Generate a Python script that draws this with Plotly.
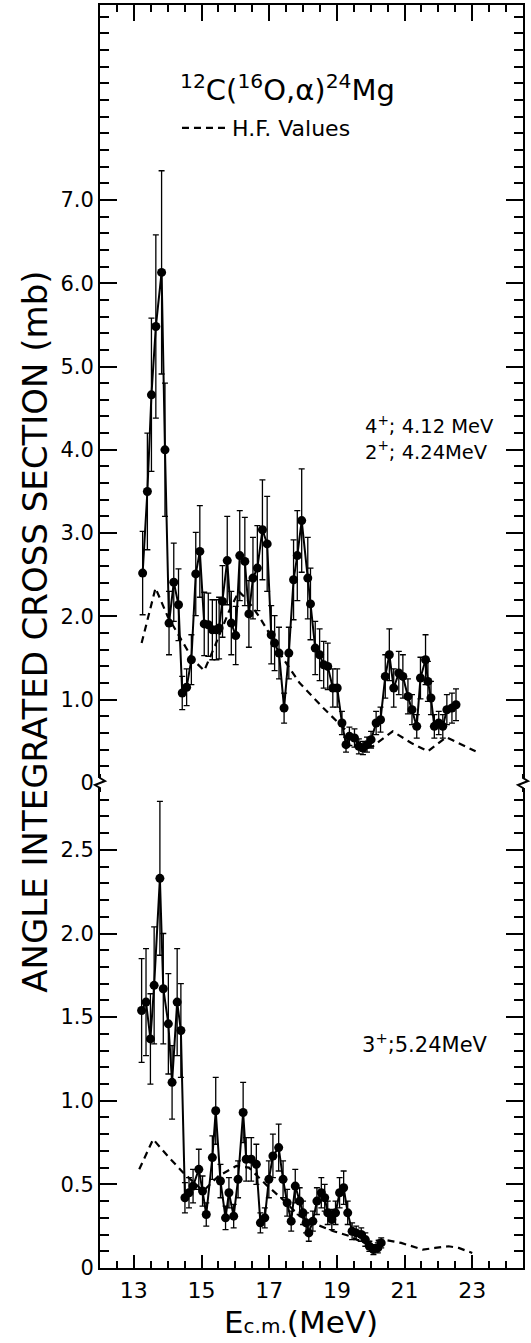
import plotly.graph_objects as go

# ---- Top panel: 4+ ; 4.12 MeV / 2+ ; 4.24 MeV ----
top_E = [13.26, 13.40, 13.52, 13.65, 13.82, 13.92, 14.04, 14.18, 14.32, 14.43,
         14.56, 14.70, 14.83, 14.95, 15.08, 15.20, 15.32, 15.44, 15.52, 15.62,
         15.76, 15.88, 16.01, 16.13, 16.28, 16.40, 16.52, 16.65, 16.80, 16.94,
         17.06, 17.16, 17.29, 17.44, 17.58, 17.72, 17.83, 17.96, 18.14, 18.22,
         18.36, 18.49, 18.61, 18.73, 18.88, 19.01, 19.15, 19.27, 19.37, 19.52,
         19.65, 19.77, 19.89, 20.01, 20.16, 20.29, 20.43, 20.55, 20.68, 20.83,
         20.95, 21.10, 21.22, 21.36, 21.47, 21.62, 21.69, 21.78, 21.88, 22.01,
         22.13, 22.25, 22.40, 22.52]
top_sigma = [2.52, 3.50, 4.66, 5.48, 6.13, 4.00, 1.92, 2.41, 2.14, 1.08,
             1.15, 1.48, 2.51, 2.78, 1.91, 1.90, 1.84, 1.84, 1.86, 2.18,
             2.67, 1.92, 1.77, 2.73, 2.66, 2.03, 2.46, 2.58, 3.04, 2.87,
             1.78, 1.68, 1.56, 0.90, 1.56, 2.44, 2.73, 3.15, 2.46, 2.15,
             1.62, 1.54, 1.42, 1.40, 1.14, 1.14, 0.72, 0.46, 0.56, 0.54,
             0.44, 0.42, 0.46, 0.52, 0.72, 0.76, 1.28, 1.54, 1.14, 1.32,
             1.28, 1.04, 0.88, 0.68, 1.26, 1.48, 1.22, 1.02, 0.68, 0.72,
             0.68, 0.88, 0.90, 0.94]
top_err = [0.50, 0.70, 0.92, 1.10, 1.22, 0.80, 0.38, 0.47, 0.43, 0.20,
           0.22, 0.30, 0.50, 0.55, 0.38, 0.38, 0.36, 0.36, 0.37, 0.43,
           0.53, 0.38, 0.35, 0.54, 0.53, 0.40, 0.49, 0.51, 0.60, 0.57,
           0.35, 0.33, 0.31, 0.18, 0.31, 0.48, 0.54, 0.62, 0.49, 0.43,
           0.32, 0.31, 0.28, 0.28, 0.23, 0.23, 0.14, 0.09, 0.11, 0.11,
           0.09, 0.08, 0.09, 0.10, 0.14, 0.15, 0.26, 0.31, 0.23, 0.26,
           0.26, 0.21, 0.18, 0.14, 0.25, 0.30, 0.24, 0.20, 0.14, 0.14,
           0.14, 0.18, 0.18, 0.19]
top_hf_E = [13.23, 13.64, 14.00, 14.40, 14.75, 15.08, 15.40, 15.80, 16.10, 16.35,
            16.70, 17.00, 17.40, 17.90, 18.60, 19.20, 19.77, 20.06, 20.40, 20.65,
            21.20, 21.69, 22.23, 23.10]
top_hf = [1.68, 2.34, 2.00, 1.72, 1.48, 1.35, 1.65, 2.05, 2.30, 2.20,
          2.00, 1.80, 1.50, 1.20, 0.90, 0.66, 0.44, 0.44, 0.55, 0.62,
          0.48, 0.38, 0.55, 0.38]

# ---- Bottom panel: 3+ ; 5.24 MeV ----
bot_E = [13.23, 13.36, 13.49, 13.60, 13.77, 13.87, 14.02, 14.13, 14.28, 14.39,
         14.51, 14.63, 14.75, 14.92, 15.03, 15.14, 15.32, 15.42, 15.56, 15.71,
         15.81, 15.95, 16.08, 16.23, 16.32, 16.47, 16.62, 16.74, 16.87, 16.99,
         17.11, 17.28, 17.41, 17.53, 17.65, 17.77, 17.90, 18.00, 18.09, 18.17,
         18.29, 18.41, 18.54, 18.64, 18.73, 18.85, 18.96, 19.08, 19.20, 19.32,
         19.45, 19.57, 19.72, 19.84, 19.96, 20.08, 20.21, 20.31]
bot_sigma = [1.54, 1.59, 1.37, 1.69, 2.33, 1.67, 1.46, 1.11, 1.59, 1.42,
             0.42, 0.45, 0.49, 0.59, 0.46, 0.32, 0.66, 0.94, 0.52, 0.30,
             0.45, 0.31, 0.53, 0.93, 0.65, 0.65, 0.62, 0.27, 0.30, 0.53,
             0.67, 0.72, 0.53, 0.39, 0.28, 0.49, 0.40, 0.33, 0.27, 0.21,
             0.28, 0.40, 0.45, 0.42, 0.33, 0.29, 0.33, 0.45, 0.48, 0.33,
             0.22, 0.21, 0.20, 0.17, 0.13, 0.11, 0.12, 0.15]
bot_err = [0.31, 0.32, 0.27, 0.35, 0.46, 0.33, 0.30, 0.22, 0.32, 0.28,
           0.09, 0.09, 0.10, 0.12, 0.09, 0.07, 0.13, 0.20, 0.10, 0.07,
           0.09, 0.07, 0.11, 0.18, 0.13, 0.13, 0.12, 0.06, 0.06, 0.11,
           0.13, 0.14, 0.11, 0.08, 0.06, 0.10, 0.08, 0.07, 0.06, 0.05,
           0.06, 0.08, 0.09, 0.08, 0.07, 0.06, 0.07, 0.09, 0.10, 0.07,
           0.05, 0.04, 0.04, 0.04, 0.03, 0.03, 0.03, 0.03]
bot_hf_E = [13.16, 13.57, 14.00, 14.46, 15.05, 15.50, 16.03, 16.40, 16.90, 17.40,
            17.90, 18.40, 18.90, 19.40, 19.77, 20.36, 20.90, 21.54, 21.90, 22.30,
            22.60, 23.00]
bot_hf = [0.59, 0.77, 0.67, 0.57, 0.46, 0.55, 0.61, 0.60, 0.50, 0.41,
          0.31, 0.26, 0.22, 0.19, 0.15, 0.17, 0.15, 0.11, 0.12, 0.13,
          0.12, 0.09]

top_tickvals = [0, 1, 2, 3, 4, 5, 6, 7]
top_ticktext = ["0", "1.0", "2.0", "3.0", "4.0", "5.0", "6.0", "7.0"]
bot_tickvals = [0, 0.5, 1.0, 1.5, 2.0, 2.5]
bot_ticktext = ["0", "0.5", "1.0", "1.5", "2.0", "2.5"]
x_tickvals = [13, 15, 17, 19, 21, 23]

FONT = "DejaVu Sans"
BLACK = "black"
split = 0.384

fig = go.Figure()

def data_trace(x, y, e, ya):
    return go.Scatter(
        x=x, y=y, xaxis="x" if ya == "y" else "x2", yaxis=ya,
        mode="lines+markers", showlegend=False,
        line=dict(color=BLACK, width=2),
        marker=dict(color=BLACK, size=9, symbol="circle"),
        error_y=dict(type="data", array=e, visible=True, color=BLACK,
                     thickness=1.3, width=3),
    )

fig.add_trace(data_trace(top_E, top_sigma, top_err, "y2"))
fig.add_trace(go.Scatter(x=top_hf_E, y=top_hf, xaxis="x2", yaxis="y2",
                         mode="lines", name="H.F. Values", showlegend=True,
                         line=dict(color=BLACK, width=2.2, dash="7px,5px")))
fig.add_trace(data_trace(bot_E, bot_sigma, bot_err, "y"))
fig.add_trace(go.Scatter(x=bot_hf_E, y=bot_hf, xaxis="x", yaxis="y",
                         mode="lines", showlegend=False,
                         line=dict(color=BLACK, width=2.2, dash="7px,5px")))

xcommon = dict(range=[12, 24.5], tickvals=x_tickvals, ticks="inside",
               showline=True, linecolor=BLACK, linewidth=2,
               tickcolor=BLACK, tickwidth=1.5, zeroline=False, showgrid=False,
               minor=dict(dtick=0.5, tick0=12, ticks="inside", ticklen=7,
                          tickcolor=BLACK, tickwidth=1.5, showgrid=False))
fig.update_layout(
    width=531, height=1343,
    margin=dict(l=100, r=8, t=5, b=75),
    paper_bgcolor="white", plot_bgcolor="white",
    font=dict(family=FONT, color=BLACK),
    xaxis=dict(**xcommon, anchor="y", side="bottom", ticklen=13,
               tickfont=dict(size=22, family=FONT), ticklabelstandoff=2),
    xaxis2=dict(**xcommon, anchor="y2", side="top", ticklen=16,
                showticklabels=False, matches="x"),
    yaxis=dict(domain=[0, split], range=[0, 2.9], tickvals=bot_tickvals,
               ticktext=bot_ticktext, ticks="inside", ticklen=17,
               tickcolor=BLACK, tickwidth=1.5, showline=True, linecolor=BLACK,
               linewidth=2, mirror="allticks", zeroline=False, showgrid=False,
               tickfont=dict(size=21, family=FONT),
               minor=dict(dtick=0.1, tick0=0, ticks="inside", ticklen=9,
                          tickcolor=BLACK, tickwidth=1.5, showgrid=False)),
    yaxis2=dict(domain=[split, 1], range=[0, 9.34], tickvals=top_tickvals,
                ticktext=top_ticktext, ticks="inside", ticklen=17,
                tickcolor=BLACK, tickwidth=1.5, showline=True, linecolor=BLACK,
                linewidth=2, mirror="allticks", zeroline=False, showgrid=False,
                anchor="x2", tickfont=dict(size=21, family=FONT),
                minor=dict(dtick=0.2, tick0=0, ticks="inside", ticklen=9,
                           tickcolor=BLACK, tickwidth=1.5, showgrid=False)),
    legend=dict(x=0.182, y=0.9026, xanchor="left", yanchor="middle",
                font=dict(size=22, family=FONT), bgcolor="rgba(0,0,0,0)",
                itemwidth=45),
)

# Title, axis titles and panel labels
fig.add_annotation(xref="paper", yref="paper", x=0.443, y=0.9343,
                   xanchor="center", yanchor="middle",
                   text="<sup>12</sup>C(<sup>16</sup>O,α)<sup>24</sup>Mg",
                   showarrow=False, font=dict(size=29, family=FONT))
fig.add_annotation(xref="paper", yref="paper", x=-0.154, y=0.5036,
                   xanchor="center", yanchor="middle",
                   text="ANGLE INTEGRATED CROSS SECTION (mb)", textangle=-90,
                   showarrow=False, font=dict(size=34, family=FONT))
fig.add_annotation(xref="paper", yref="paper", x=0.475, y=-0.0428,
                   xanchor="center", yanchor="middle",
                   text="E<span style='font-size:20px'>c.m.</span>(MeV)",
                   showarrow=False, font=dict(size=31, family=FONT))
fig.add_annotation(xref="paper", yref="paper", x=0.622, y=0.6568,
                   xanchor="left", yanchor="middle",
                   text="4<sup>+</sup>; 4.12 MeV<br>2<sup>+</sup>; 4.24MeV",
                   align="left", showarrow=False, font=dict(size=19.5, family=FONT))
fig.add_annotation(xref="paper", yref="paper", x=0.615, y=0.1782,
                   xanchor="left", yanchor="middle",
                   text="3<sup>+</sup>;5.24MeV",
                   showarrow=False, font=dict(size=21, family=FONT))

# Axis break marks
for xp in (0, 1):
    fig.add_shape(type="line", xref="paper", yref="paper", xsizemode="pixel",
                  ysizemode="pixel", xanchor=xp, yanchor=split,
                  x0=0, x1=0, y0=-5, y1=5, line=dict(color="white", width=4))
    fig.add_shape(type="path", xref="paper", yref="paper", xsizemode="pixel",
                  ysizemode="pixel", xanchor=xp, yanchor=split,
                  path="M 0,-9 L 0,-5 L -5,-2 L 5,2 L 0,5 L 0,9",
                  line=dict(color=BLACK, width=2))

fig.write_html("out.html")
